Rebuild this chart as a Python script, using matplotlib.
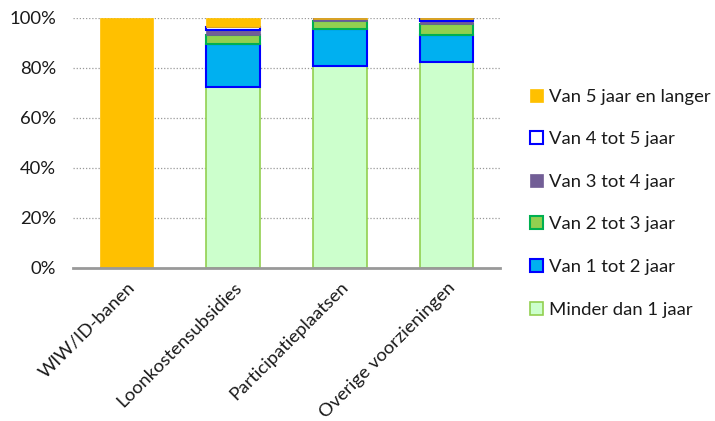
import matplotlib
matplotlib.use("Agg")
import matplotlib.pyplot as plt
import numpy as np

categories = ["WIW/ID-banen", "Loonkostensubsidies", "Participatieplaatsen", "Overige voorzieningen"]
series_names = ["Minder dan 1 jaar", "Van 1 tot 2 jaar", "Van 2 tot 3 jaar",
                "Van 3 tot 4 jaar", "Van 4 tot 5 jaar", "Van 5 jaar en langer"]
minder_1 = [0.0, 72.5, 80.9, 82.3]
jaar_1_2 = [0.0, 17.1, 14.7, 10.9]
jaar_2_3 = [0.0, 3.6, 3.2, 4.3]
jaar_3_4 = [0.0, 2.0, 0.7, 1.3]
jaar_4_5 = [0.0, 1.3, 0.3, 0.8]
jaar_5_plus = [100.0, 3.5, 0.2, 0.4]
yticks = [0, 20, 40, 60, 80, 100]
ytick_labels = ["0%", "20%", "40%", "60%", "80%", "100%"]

series = [minder_1, jaar_1_2, jaar_2_3, jaar_3_4, jaar_4_5, jaar_5_plus]
faces = ["#CCFFCC", "#00B0F0", "#92D050", "#725E96", "#FFFFFF", "#FFC000"]
edges = ["#92D050", "#0000FF", "#00B050", "#725E96", "#0000FF", "#FFC000"]
lws = [1.2, 1.5, 1.5, 0.5, 1.5, 0.5]

font = "Lato"
plt.rcParams["font.family"] = [font, "DejaVu Sans"]
fs = 13.3
tc = "#1a1a1a"

fig = plt.figure(figsize=(7.15, 4.21), dpi=100)
ax = fig.add_axes([73/715, 1-268/421, (500-73)/715, 250/421])

x = np.arange(len(categories))
bottom = np.zeros(len(categories))
handles = []
for vals, name, fc, ec, lw in zip(series, series_names, faces, edges, lws):
    v = np.array(vals)
    b = ax.bar(x, v, 0.5, bottom=bottom, color=fc, edgecolor=ec, linewidth=lw,
               label=name, zorder=3)
    handles.append(b)
    bottom += v

ax.set_xlim(-0.5, 3.5)
ax.set_ylim(0, 100)
ax.set_yticks(yticks)
ax.set_yticklabels(ytick_labels, fontsize=fs, color=tc)
ax.set_xticks(x)
ax.set_xticklabels(categories, rotation=45, ha="right", rotation_mode="anchor",
                   fontsize=fs, color=tc)
ax.tick_params(axis="both", length=0)
ax.tick_params(axis="y", pad=12)
ax.tick_params(axis="x", pad=8)
for yv in yticks[1:]:
    ax.axhline(yv, color="#999999", linestyle=(0, (1, 1.5)), linewidth=0.9, zorder=1)
for s in ["top", "right", "left"]:
    ax.spines[s].set_visible(False)
ax.spines["bottom"].set_color("#999999")
ax.spines["bottom"].set_linewidth(2)
ax.spines["bottom"].set_zorder(4)

leg = fig.legend(handles[::-1], series_names[::-1], loc="upper left",
                 bbox_to_anchor=(513/715, 1-72/421), frameon=False,
                 fontsize=fs, handlelength=0.7, handleheight=0.7,
                 handletextpad=0.35, labelspacing=1.44)
for t in leg.get_texts():
    t.set_color(tc)
fig.savefig("out.png", dpi=100)
